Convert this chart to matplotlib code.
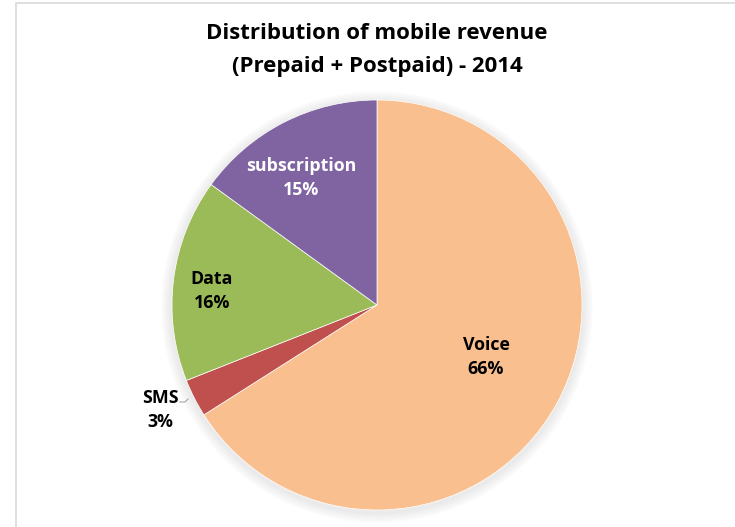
import matplotlib.pyplot as plt
from matplotlib.patches import Circle, Rectangle

# data
labels = ['Voice', 'SMS', 'Data', 'subscription']
shares = [66, 3, 16, 15]
colors = ['#F9BF8F', '#C0504D', '#9BBB59', '#8064A2']
text_colors = ['black', 'black', 'black', 'white']

W, H = 735, 527
fig = plt.figure(figsize=(W / 100, H / 100), dpi=100)
fig.patch.set_facecolor('white')

# chart-area frame (only left and top visible)
fig.add_artist(Rectangle((16 / W, -0.1), 1.2, (H - 3) / H + 0.1, transform=fig.transFigure,
                         fill=False, edgecolor='#d9d9d9', linewidth=1.2))

cx, cy, r = 377, 305, 205
ax = fig.add_axes([(cx - r) / W, (H - cy - r) / H, 2 * r / W, 2 * r / H])

# soft shadow behind the pie
for i in range(10):
    ax.add_patch(Circle((0, -0.01), 1.0 + 0.005 * (10 - i), color='black',
                        alpha=0.008, zorder=0, clip_on=False))

wedges, _ = ax.pie(shares, colors=colors, startangle=90, counterclock=False,
                   radius=1.0, wedgeprops=dict(edgecolor='white', linewidth=0.5))
for w in wedges:
    w.set_zorder(2)
ax.set_xlim(-1, 1)
ax.set_ylim(-1, 1)
ax.set_aspect('equal')
ax.axis('off')

fam = ['Open Sans', 'DejaVu Sans']
# label positions in pixels (figure coords)
label_pos = [(486, 357), (160, 410), (212, 291), (301, 178)]
for lab, s, tc, (px, py) in zip(labels, shares, text_colors, label_pos):
    fig.text(px / W, 1 - py / H, f'{lab}\n{s}%', ha='center', va='center',
             fontsize=12.8, fontweight='bold', color=tc, family=fam, linespacing=1.45)

# leader line for SMS
fig.add_artist(plt.Line2D([180 / W, 185 / W, 188 / W], [1 - 402 / H, 1 - 402 / H, 1 - 399 / H],
                          color='#a6a6a6', linewidth=0.8))

fig.text(377 / W, 1 - 50 / H, 'Distribution of mobile revenue\n(Prepaid + Postpaid) - 2014',
         ha='center', va='center', fontsize=16, fontweight='bold', family=fam,
         linespacing=1.75)

fig.savefig('out.png', dpi=100)
